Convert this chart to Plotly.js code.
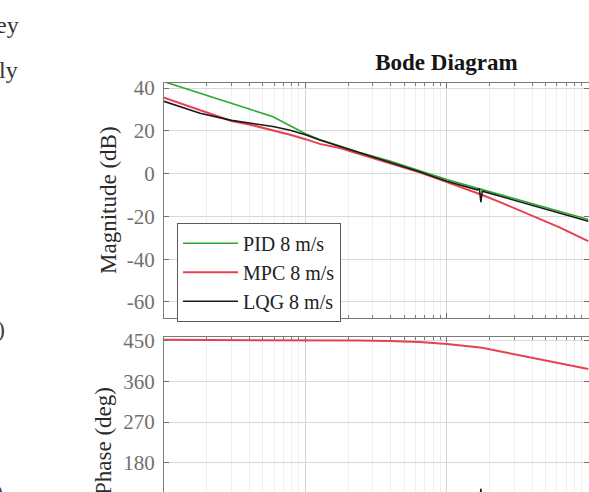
<!DOCTYPE html>
<html><head><meta charset="utf-8">
<script src="https://cdn.plot.ly/plotly-3.0.1.min.js"></script>
<style>html,body{margin:0;padding:0;background:#fff;} #chart{width:589px;height:492px;}</style>
</head><body><div id="chart"></div>
<script>
// Frequency points (rad/s)
const freq = [0.1, 0.18, 0.3, 0.4, 0.59, 0.78, 1.0, 1.26, 1.75, 2.4, 3.9, 6.4, 10, 13.3, 16.4, 17.0, 17.4, 17.8, 23.5, 38, 62, 100];

// Magnitude (dB)
const pidMag = [43, 37.7, 33.0, 30.2, 26.6, 22.3, 18.6, 15.9, 12.8, 10.0, 6.0, 1.2, -2.8, -5.1, -6.8, -7.1, -7.3, -7.5, -9.7, -13.6, -17.6, -21.5];
const mpcMag = [35.5, 29.6, 24.6, 23.0, 20.3, 18.2, 16.1, 13.9, 12.0, 9.2, 5.0, 0.6, -4.0, -6.8, -9.0, -9.4, -9.7, -10.0, -13.2, -18.9, -25.0, -31.6];
const lqgMag = [33.8, 28.2, 24.9, 23.8, 22.0, 20.3, 18.2, 15.7, 12.7, 9.8, 5.6, 0.9, -3.6, -5.9, -7.6, -7.2, -13.4, -8.2, -10.5, -14.4, -18.4, -22.3];

// Phase (deg)
const pidPhase = [92, 92, 91, 91, 90, 90, 89, 88, 87, 86, 84, 82, 79, 77, 75, 75, 75, 74, 71, 66, 60, 54];
const mpcPhase = [451.5, 451.5, 451.4, 451.3, 451.2, 451.1, 451.0, 450.8, 450.5, 450.0, 449.0, 446.5, 442.5, 439.0, 435.5, 435.0, 434.5, 434.0, 426.5, 413.5, 399.5, 387.0];
const lqgPhase = [90, 90, 90, 89, 89, 88, 88, 87, 86, 85, 83, 80, 76, 73, 70, 74, 123, 70, 66, 60, 52, 45];

const seriesNames = ['PID 8 m/s', 'MPC 8 m/s', 'LQG 8 m/s'];
const seriesColors = ['#2fa82f', '#e8404f', '#1a1a1a'];

const magTickVals = [-60, -40, -20, 0, 20, 40];
const magTickText = ['-60', '-40', '-20', '0', '20', '40'];
const phaseTickVals = [180, 270, 360, 450];
const phaseTickText = ['180', '270', '360', '450'];

const SERIF = 'Liberation Serif, Times New Roman, serif';

const magData = [pidMag, mpcMag, lqgMag];
const phaseData = [pidPhase, mpcPhase, lqgPhase];
const widths = [1.6, 2.0, 1.6];

const traces = [];
for (let i = 0; i < 3; i++) {
  traces.push({x: freq, y: magData[i], type: 'scatter', mode: 'lines', name: seriesNames[i],
    line: {color: seriesColors[i], width: widths[i]}, xaxis: 'x', yaxis: 'y', legendrank: i + 1});
}
for (let i = 0; i < 3; i++) {
  traces.push({x: freq, y: phaseData[i], type: 'scatter', mode: 'lines', name: seriesNames[i],
    line: {color: seriesColors[i], width: widths[i]}, xaxis: 'x2', yaxis: 'y2', showlegend: false});
}

const tickFont = {family: SERIF, size: 21, color: '#707070'};
const xCommon = {
  type: 'log', range: [-1, 2.005], dtick: 1, showticklabels: false,
  ticks: 'inside', ticklen: 5, tickcolor: '#707070',
  showgrid: true, gridcolor: '#d4d4d4', gridwidth: 1, zeroline: false,
  linecolor: '#7a7a7a', linewidth: 1, showline: true,
  minor: {ticks: 'inside', ticklen: 3, tickcolor: '#7a7a7a', showgrid: true, gridcolor: '#efefef', dtick: 'D1'}
};

const layout = {
  width: 589, height: 492,
  margin: {l: 164, r: 0, t: 0, b: 0},
  paper_bgcolor: '#ffffff', plot_bgcolor: '#ffffff',
  showlegend: true,
  title: {text: 'Bode Diagram', font: {family: SERIF, size: 23, color: '#151515', weight: 'bold'},
    x: 0.758, xanchor: 'center', y: 0.874, yanchor: 'middle'},
  xaxis: Object.assign({}, xCommon, {anchor: 'y', mirror: 'ticks'}),
  xaxis2: Object.assign({}, xCommon, {anchor: 'y2', side: 'top', mirror: false, matches: 'x'}),
  yaxis: {domain: [0.3537, 0.8319], range: [-67.5, 42.5], tickvals: magTickVals, ticktext: magTickText,
    tickfont: tickFont, ticks: 'inside', ticklen: 5, tickcolor: '#707070', ticklabelstandoff: 4,
    showline: true, mirror: 'ticks', linecolor: '#7a7a7a', showgrid: true, gridcolor: '#d9d9d9', zeroline: false},
  yaxis2: {domain: [0, 0.315], range: [115.8, 457.7], tickvals: phaseTickVals, ticktext: phaseTickText,
    tickfont: tickFont, ticks: 'inside', ticklen: 5, tickcolor: '#707070', ticklabelstandoff: 4,
    showline: true, mirror: 'ticks', linecolor: '#7a7a7a', showgrid: true, gridcolor: '#d9d9d9', zeroline: false},
  legend: {x: 0.0306, y: 0.5474, xanchor: 'left', yanchor: 'top', bgcolor: '#ffffff',
    bordercolor: '#5a5a5a', borderwidth: 1, font: {family: SERIF, size: 20, color: '#222222'},
    itemwidth: 55, tracegroupgap: 0},
  annotations: [
    {text: 'Magnitude (dB)', xref: 'paper', yref: 'paper', x: -0.1294, y: 0.5935, textangle: -90,
      showarrow: false, xanchor: 'center', yanchor: 'middle', font: {family: SERIF, size: 23, color: '#2a2a2a'}},
    {text: 'Phase (deg)', xref: 'paper', yref: 'paper', x: -0.1412, y: 0.1037, textangle: -90,
      showarrow: false, xanchor: 'center', yanchor: 'middle', font: {family: SERIF, size: 23, color: '#2a2a2a'}},
    {text: 'ey', xref: 'paper', yref: 'paper', x: -0.3365, y: 0.950, showarrow: false, xanchor: 'right', yanchor: 'middle',
      font: {family: SERIF, size: 24, color: '#333333'}},
    {text: 'ly', xref: 'paper', yref: 'paper', x: -0.3388, y: 0.858, showarrow: false, xanchor: 'right', yanchor: 'middle',
      font: {family: SERIF, size: 24, color: '#333333'}},
    {text: ')', xref: 'paper', yref: 'paper', x: -0.3694, y: 0.331, showarrow: false, xanchor: 'right', yanchor: 'middle',
      font: {family: SERIF, size: 24, color: '#444444'}},
    {text: ')', xref: 'paper', yref: 'paper', x: -0.3741, y: 0.0, showarrow: false, xanchor: 'right', yanchor: 'middle',
      font: {family: SERIF, size: 24, color: '#444444'}}
  ]
};

Plotly.newPlot('chart', traces, layout, {displayModeBar: false, staticPlot: true});
</script>
</body></html>
